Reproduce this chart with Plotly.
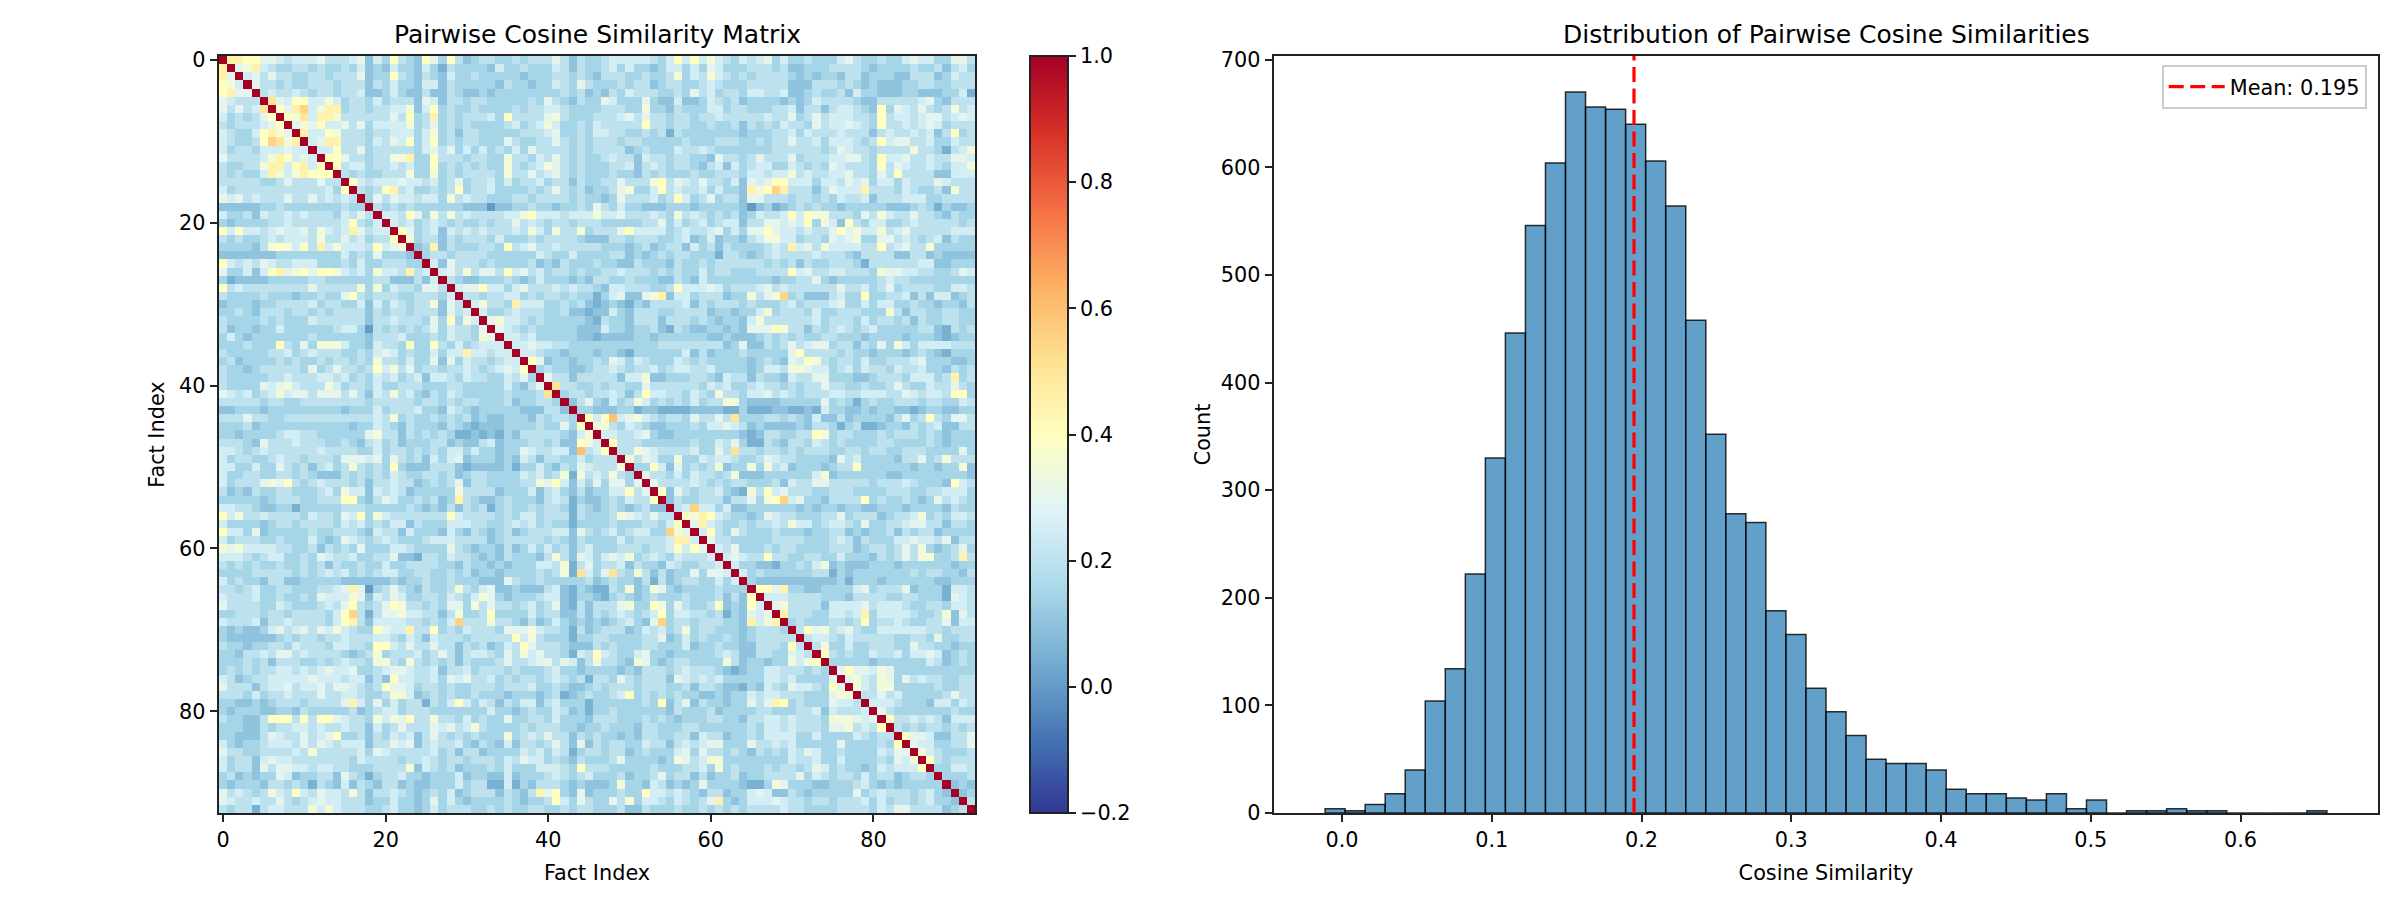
import plotly.graph_objects as go
from plotly.subplots import make_subplots

# upper triangle of the similarity matrix, row i holds columns i+1..92
# one hex digit per cell, in steps of SIM_STEP, spaces are only for reading
SIM_STEP = 0.05
SIM_UPPER = [
    "9988665455 5644456253 8432863842 3443343444 6424334555 5543585857 5435456353 3433356433 4335655336 64",
    "679543344 3433435232 5332531433 3325334333 5424334535 3323553536 5333444342 2333444432 3333433424 53",
    "56464433 4434446233 8432432533 4333332333 4434324443 3433473547 5434344443 2323324423 3322444235 44",
    "6443433 4443444243 5332552433 3332433233 5436433343 4423443345 4333444442 2244434323 2223344334 44",
    "454454 3443445223 5322422432 2323333333 3434232435 4443343645 3443554452 2343342533 2223322233 51",
    "a6588 5575344353 4442652443 4433333436 4324336533 3632252235 4342333323 2354444322 4444456324 44",
    "869b 5799344344 5572583433 4333343445 5433334443 3733243335 5344333445 2442455432 8365464347 45",
    "87a 5997444444 6483493434 4453844446 7433344456 4644344344 5444445446 3464555443 8455456645 65",
    "67 6855646355 5573463434 3333453457 5334354444 4844344334 3342434354 4364556543 8445456534 44",
    "9 5587444344 5553573424 4333334445 6334355443 3434143333 3332333445 3544454442 4544545248 34",
    "5699444354 6583583434 4333643344 6434344434 4333334333 4443343446 4453555434 8566445335 44",
    "558446344 4443564635 3534353644 4434344442 3433354454 3333333444 4443465443 4444744314 57",
    "88644344 7793384443 4433744354 6434334544 2544344332 6443464446 3444556643 8556445446 65",
    "8455344 5453383434 3433743457 6434333445 2454344324 5253455335 4343654443 8465445435 57",
    "434334 4473373434 4443744645 6434333433 2434333433 4443554557 4544556443 6484444225 55",
    "85455 5655453463 4453534453 4424334464 4478465464 4352656885 5535546563 5535444654 44",
    "4348 9453343483 4453333434 6434233467 3358454453 5332978b94 4424655594 4435433427 44",
    "364 6554553745 4433344344 4434332364 4453485346 3442664443 4434354452 4445553344 44",
    "43 4343333332 2202233433 2334364353 3222333233 3332023123 4343323333 3222343132 23",
    "5 5486374745 4444557855 5455575564 4454374543 4342354458 5877444364 7544644324 33",
    "5453454343 3434464543 4434443333 3446353453 4552446656 5837528435 5334544444 34",
    "863452545 4544454753 7447344468 5555345445 6353668655 4544686755 7456444445 55",
    "73442434 4435333434 4443222443 4443345235 2332457755 3443656733 6645434524 33",
    "2392433 3443845644 5444443332 3423442534 2433334549 5647555544 8456447333 33",
    "344344 4433333354 3353333442 3234344333 1443234544 4454443244 4422442322 22",
    "52644 4343333423 2433343322 4333243343 4444443434 2433444314 4444455223 33",
    "5647 4664856453 4434334454 4434343353 4433344448 5644554443 7665544334 65",
    "432 2333432353 3323244334 3332243253 3333333233 4463233333 4544333333 33",
    "56 6855356444 5454432554 4433485556 5344456454 4444464453 4634444335 54",
    "4 4344553434 4343313562 2679255344 42337467b3 4222453383 3445242552 34",
    "5744395553 3434212321 3244445243 4443433345 3444563353 5533433233 24",
    "533454443 3422122532 4443344442 3323357344 4353344433 3742443344 33",
    "67554343 3333214332 4442444343 2332574444 4453444353 4434243344 33",
    "6543433 3332225332 3342143223 3232666874 4243454345 3333344214 34",
    "554533 3332212222 3323333332 2322234343 4334433323 3332333212 33",
    "55655 4433333333 3334444444 4236224346 4566344243 6375355554 44",
    "5543 3233323321 3333335242 3334333336 8444434332 3332343213 33",
    "862 3323343653 5433354343 3333234326 5874344353 3444563332 23",
    "34 3322344543 4453455445 3333235547 7655345354 4354453324 34",
    "6 4424444425 5722333443 2544243325 4466333223 4443555349 34",
    "a443343443 3644444435 4533454434 3446443343 3464335446 43",
    "344344542 4855443543 7443556454 3444554455 5446545548 83",
    "24632534 7534343534 4773222233 3336343134 3344434433 54",
    "3322233 1221111222 2113111221 1215332232 3322123322 33",
    "858c56 7543443644 64a3334434 3252242333 3246348436 64",
    "77435 4322333435 5654232222 3244313411 2332434522 44",
    "5544 5632233333 3332124433 4487344333 4344434323 33",
    "844 4333333433 5463114324 4354343333 4433334323 33",
    "44 7654444533 64a4434434 3444334434 4334443333 63",
    "7 4653373354 5543346544 3333264533 3324463474 44",
    "3385263434 7233737452 3332344833 3333233233 72",
    "644353544 3472223333 3357233333 3223333333 32",
    "64444543 4344333425 4466444443 4445433328 54",
    "8264344 5321748564 4433444333 3444334455 53",
    "243344 42446378b5 6332444483 4334323645 43",
    "45b55 3522333333 2323323322 3332333324 33",
    "8798 5433236544 3334463444 2344573435 54",
    "695 4334344547 5534554363 3445664424 43",
    "58 4364333433 3233442323 3424344233 33",
    "6 4433333444 4333454243 3355655462 44",
    "5463334344 3333444234 4346473234 63",
    "565448443 3443353332 4346477334 94",
    "53322133 4357232223 3323333332 33",
    "5343333 3344132333 3333434433 24",
    "322222 2222231333 2333333223 33",
    "88693 3223333563 4446233315 54",
    "5554 4443332444 4334433316 54",
    "674 4442555564 5554334435 54",
    "94 4433554593 5555433472 64",
    "3 4333443483 4454334462 55",
    "4867456433 5555554434 44",
    "455435444 4433443633 44",
    "47335334 4433644332 33",
    "8434335 4453556523 43",
    "333332 3333335423 43",
    "68665 7633333333 33",
    "6754 7636454433 44",
    "754 7733333433 44",
    "44 6453333346 44",
    "5 5543332553 54",
    "6433333334 33",
    "844545425 55",
    "43434434 34",
    "8665224 46",
    "655334 46",
    "75433 34",
    "8434 44",
    "335 54",
    "33 34",
    "2 32",
    "23",
    "4",
]

# histogram
BIN_LEFT = -0.0113
BIN_WIDTH = 0.01338
BIN_COUNTS = [
    4, 2, 8, 18, 40, 104, 134, 222, 330, 446,
    546, 604, 670, 656, 654, 640, 606, 564, 458, 352,
    278, 270, 188, 166, 116, 94, 72, 50, 46, 46,
    40, 22, 18, 18, 14, 12, 18, 4, 12, 0,
    2, 2, 4, 2, 2, 0, 0, 0, 0, 2,
]
MEAN_SIM = 0.195
HIST_XRANGE = [-0.0454, 0.6918]
HIST_YMAX = 703.5

FONT = "DejaVu Sans"
TICK_SIZE = 20.8
TITLE_SIZE = 25
# the page keeps its 8px body margin, so the figure is 16px short of the window
W, H = 2384, 884
PAGE_MARGIN = 8


def build_matrix() -> list:
    n = len(SIM_UPPER) + 1
    matrix = [[1.0] * n for _ in range(n)]
    for i, row in enumerate(SIM_UPPER):
        cells = row.replace(" ", "")
        if len(cells) != n - 1 - i:
            raise RuntimeError("row {i} has {c} cells".format(i=i, c=len(cells)))
        for k, ch in enumerate(cells):
            j = i + 1 + k
            matrix[i][j] = matrix[j][i] = int(ch, 16) * SIM_STEP
    return matrix


def axis_style() -> dict:
    return dict(
        showgrid=False, zeroline=False, showline=True, mirror=True,
        linecolor="#222222", linewidth=2,
        ticks="outside", ticklen=7.3, tickwidth=1.7, tickcolor="#222222",
        tickfont=dict(family=FONT, size=TICK_SIZE, color="black"),
    )


def x_frac(px: float) -> float:
    return (px - PAGE_MARGIN) / W


def y_frac(px: float) -> float:
    return 1 - (px - PAGE_MARGIN) / H


matrix = build_matrix()
centers = [BIN_LEFT + BIN_WIDTH * (i + 0.5) for i in range(len(BIN_COUNTS))]

fig = make_subplots(rows=1, cols=2)

fig.add_trace(
    go.Heatmap(
        z=matrix,
        zmin=-0.2,
        zmax=1.0,
        colorscale="RdYlBu_r",
        colorbar=dict(
            x=x_frac(1030), xanchor="left", xpad=0,
            y=y_frac(813), yanchor="bottom", ypad=0,
            len=757 / H, lenmode="fraction",
            thickness=38, thicknessmode="pixels",
            tick0=-0.2, dtick=0.2, tickformat=".1f",
            ticks="outside", ticklen=7.3, tickwidth=1.7, tickcolor="#222222",
            tickfont=dict(family=FONT, size=TICK_SIZE, color="black"),
            outlinecolor="#222222", outlinewidth=2,
        ),
        showlegend=False,
    ),
    row=1, col=1,
)

fig.add_trace(
    go.Bar(
        x=centers,
        y=BIN_COUNTS,
        width=BIN_WIDTH,
        marker=dict(color="rgba(31,119,180,0.7)", line=dict(color="rgba(0,0,0,0.8)", width=1.5)),
        showlegend=False,
    ),
    row=1, col=2,
)

fig.add_trace(
    go.Scatter(
        x=[MEAN_SIM, MEAN_SIM],
        y=[0, HIST_YMAX],
        mode="lines",
        line=dict(color="red", width=3.2, dash="15px,6.5px"),
        name="Mean: {m:.3f}".format(m=MEAN_SIM),
    ),
    row=1, col=2,
)

fig.update_xaxes(
    **axis_style(), domain=[x_frac(219), x_frac(975)], range=[-0.5, 92.5],
    tickmode="array", tickvals=[0, 20, 40, 60, 80],
    title=dict(text="Fact Index", standoff=14, font=dict(family=FONT, size=TICK_SIZE, color="black")),
    row=1, col=1,
)
fig.update_yaxes(
    **axis_style(), domain=[y_frac(813), y_frac(56)], range=[92.5, -0.5],
    tickmode="array", tickvals=[0, 20, 40, 60, 80],
    title=dict(text="Fact Index", standoff=9, font=dict(family=FONT, size=TICK_SIZE, color="black")),
    row=1, col=1,
)
fig.update_xaxes(
    **axis_style(), domain=[x_frac(1274), x_frac(2378)], range=HIST_XRANGE,
    tickmode="array", tickvals=[0.0, 0.1, 0.2, 0.3, 0.4, 0.5, 0.6], tickformat=".1f",
    title=dict(text="Cosine Similarity", standoff=14, font=dict(family=FONT, size=TICK_SIZE, color="black")),
    row=1, col=2,
)
fig.update_yaxes(
    **axis_style(), domain=[y_frac(813), y_frac(56)], range=[0, HIST_YMAX],
    tickmode="array", tickvals=[0, 100, 200, 300, 400, 500, 600, 700],
    title=dict(text="Count", standoff=5, font=dict(family=FONT, size=TICK_SIZE, color="black")),
    row=1, col=2,
)

for text, cx in [("Pairwise Cosine Similarity Matrix", 597), ("Distribution of Pairwise Cosine Similarities", 1826)]:
    fig.add_annotation(
        text=text, xref="paper", yref="paper", x=x_frac(cx), y=y_frac(34),
        xanchor="center", yanchor="middle", showarrow=False,
        font=dict(family=FONT, size=TITLE_SIZE, color="black"),
    )

fig.update_layout(
    width=W,
    height=H,
    margin=dict(l=0, r=0, t=0, b=0, autoexpand=False),
    paper_bgcolor="white",
    plot_bgcolor="white",
    font=dict(family=FONT, size=TICK_SIZE, color="black"),
    barmode="overlay",
    legend=dict(
        x=x_frac(2367), xanchor="right", y=y_frac(65), yanchor="top",
        bgcolor="rgba(255,255,255,0.8)", bordercolor="#cccccc", borderwidth=1.7,
        itemwidth=56,
        font=dict(family=FONT, size=TICK_SIZE, color="black"),
    ),
)

fig.write_html("out.html")
